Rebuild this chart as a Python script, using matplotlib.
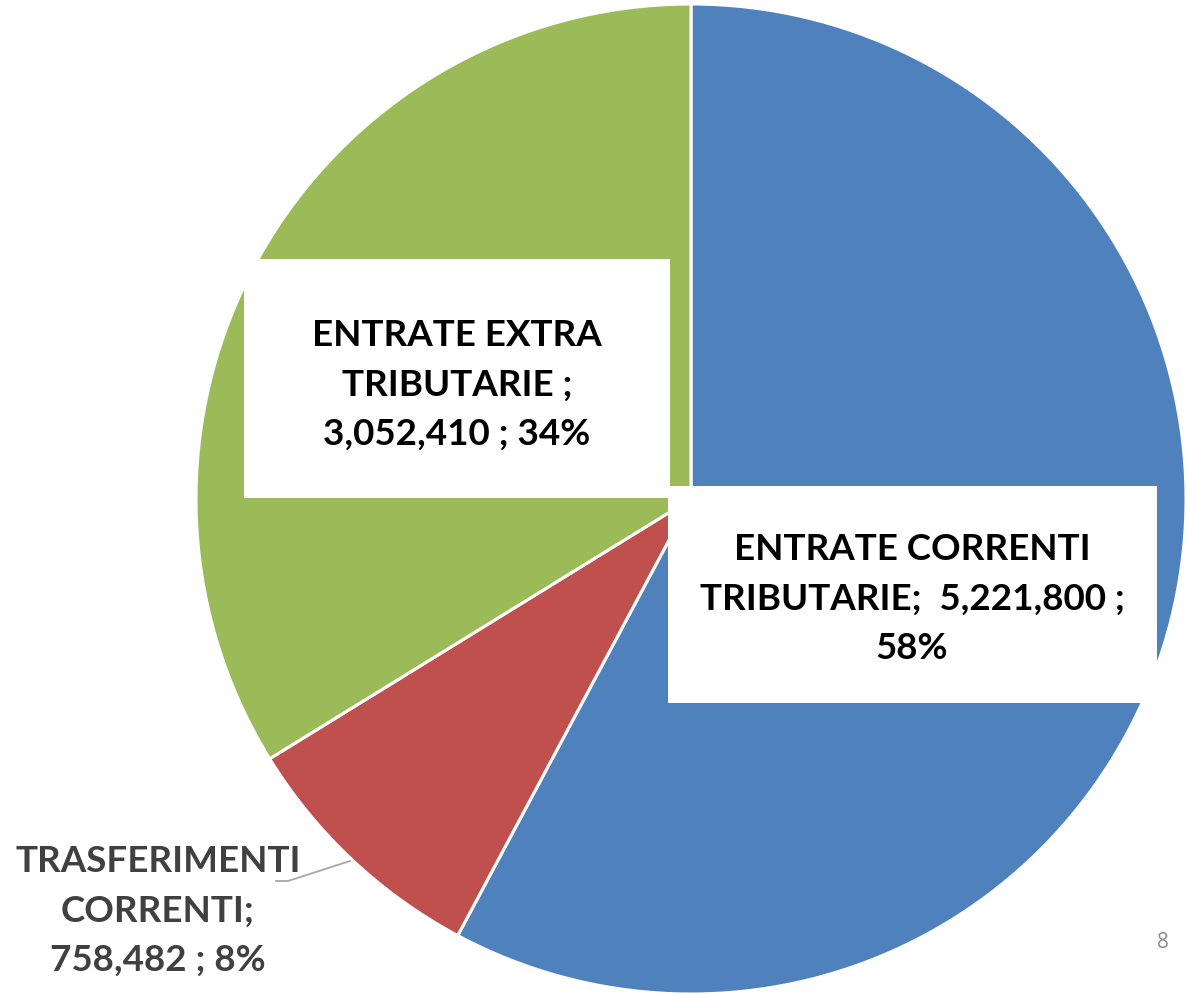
import matplotlib
matplotlib.use("Agg")
import matplotlib.pyplot as plt
from matplotlib.patches import Rectangle

categories = ["ENTRATE CORRENTI TRIBUTARIE", "TRASFERIMENTI CORRENTI", "ENTRATE EXTRA TRIBUTARIE"]
values = [5221800, 758482, 3052410]
colors = ["#4F81BD", "#C0504D", "#9BBB59"]
labels = [
    "ENTRATE CORRENTI\nTRIBUTARIE;  5,221,800 ;\n58%",
    "TRASFERIMENTI\nCORRENTI;\n758,482 ; 8%",
    "ENTRATE EXTRA\nTRIBUTARIE ;\n3,052,410 ; 34%",
]

W, H = 1187, 995
fig = plt.figure(figsize=(W / 100, H / 100), dpi=100)
ax = fig.add_axes([0, 0, 1, 1])

cx, cy, r = 691, H - 500, 495
ax.pie(values, colors=colors, startangle=90, counterclock=False,
       center=(cx, cy), radius=r, frame=True,
       wedgeprops=dict(edgecolor="white", linewidth=2.2))
ax.set_xlim(0, W)
ax.set_ylim(0, H)
ax.set_aspect("equal")
ax.axis("off")

font = dict(family=["Lato", "DejaVu Sans"], weight="bold", fontsize=26.5, linespacing=1.62)

# label boxes (pixel coords, y from top)
def box(x0, y0, x1, y1):
    ax.add_patch(Rectangle((x0, H - y1), x1 - x0, y1 - y0, facecolor="white", edgecolor="none", zorder=5))

box(244, 260, 670, 499)
box(668, 487, 1157, 704)

ax.text(457, H - 385, labels[2], ha="center", va="center", color="black", zorder=6, **font)
ax.text(912, H - 599, labels[0], ha="center", va="center", color="black", zorder=6, **font)
ax.text(158, H - 911, labels[1], ha="center", va="center", color="#404040", zorder=6, **font)

# leader line
ax.plot([276, 288, 350], [H - 882, H - 882, H - 862], color="#A6A6A6", lw=1.3, zorder=4)

ax.text(1163, H - 943, "8", ha="center", va="center", color="#8C8C8C", fontsize=15,
        family=["Open Sans", "DejaVu Sans"])

fig.savefig("out.png", dpi=100)
